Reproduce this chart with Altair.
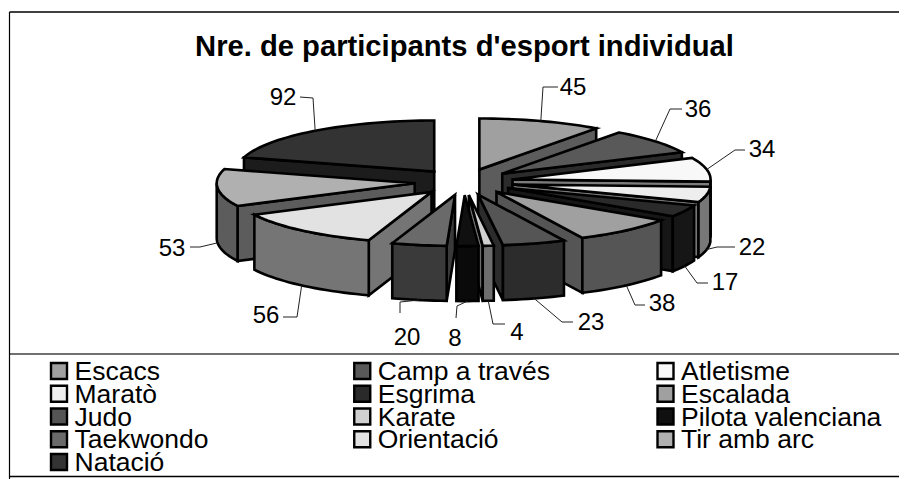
import math
import altair as alt
import pandas as pd

# ---- chart values
names = ["Escacs", "Camp a través", "Atletisme", "Maratò", "Esgrima", "Escalada", "Judo",
         "Karate", "Pilota valenciana", "Taekwondo", "Orientació", "Tir amb arc", "Natació"]
values = [45, 36, 34, 22, 17, 38, 23, 4, 8, 20, 56, 53, 92]
top_colors = ["#a0a0a0", "#595959", "#f8f8f8", "#eeeeee", "#2a2a2a", "#a0a0a0", "#555555",
              "#d0d0d0", "#101010", "#6a6a6a", "#e2e2e2", "#b0b0b0", "#333333"]
wall_colors = ["#5c5c5c", "#2b2b2b", "#7c7c7c", "#777777", "#161616", "#555555", "#2c2c2c",
               "#6e6e6e", "#0a0a0a", "#3a3a3a", "#757575", "#5c5c5c", "#1c1c1c"]

# ---- layout of the tilted pie, in page pixels
CX, CY = 464.0, 182.0       # centre of the exploded pie
EXPLODE_X, EXPLODE_Y = 49.5, 13.1
RX, RY = 198.0, 51.0
DEPTH = 55.0
label_xy = [(573, 88), (698, 110), (762, 150), (752, 248), (725, 283), (662, 304), (591, 323),
            (517, 333), (455, 339), (407, 338), (266, 316), (172, 249), (283, 98)]
leader_stub = [[(558, 87), (543, 87)], [(682, 109), (670, 109)], [(745, 150), (735, 150)],
               [(735, 247), (717, 247)], [(708, 283), (697, 283)], [(645, 305), (635, 305)],
               [(573, 322), (562, 322)], [(505, 324), (493, 324)], [(456, 318), (457, 306)],
               [(400, 313), (400, 302)], [(283, 317), (297, 317)], [(190, 247), (200, 247)],
               [(300, 97), (313, 98)]]

total = sum(values)
slices = []
cum = 0
for n, v in zip(names, values):
    a0 = cum / total * 360
    cum += v
    a1 = cum / total * 360
    mid = math.radians((a0 + a1) / 2)
    slices.append(dict(name=n, a0=a0, a1=a1, mid=mid,
                       ax=CX + EXPLODE_X * math.sin(mid),
                       ay=CY - EXPLODE_Y * math.cos(mid)))


def rim(s, deg):
    t = math.radians(deg)
    return (s["ax"] + RX * math.sin(t), s["ay"] - RY * math.cos(t))


def arc(s, d0, d1):
    n = max(2, int(abs(d1 - d0) / 2) + 2)
    return [rim(s, d0 + (d1 - d0) * k / (n - 1)) for k in range(n)]


rows = []


def face(fid, pts, color):
    closed = pts + [pts[0], pts[1]]
    for k, (x, y) in enumerate(closed):
        rows.append(dict(face=fid, k=k, x=x, y=y, fill=color))


order = sorted(range(len(slices)), key=lambda i: -math.cos(slices[i]["mid"]))
for rank, i in enumerate(order):
    s = slices[i]
    apex = (s["ax"], s["ay"])
    down = lambda p: (p[0], p[1] + DEPTH)
    fid = f"{rank:02d}"
    if math.sin(math.radians(s["a0"])) < -1e-6:
        p = rim(s, s["a0"])
        face(fid + "a", [apex, p, down(p), down(apex)], wall_colors[i])
    if math.sin(math.radians(s["a1"])) > 1e-6:
        p = rim(s, s["a1"])
        face(fid + "b", [apex, p, down(p), down(apex)], wall_colors[i])
    lo, hi = max(s["a0"], 90), min(s["a1"], 270)
    if hi > lo:
        top = arc(s, lo, hi)
        face(fid + "c", top + [down(p) for p in reversed(top)], wall_colors[i])
    face(fid + "d", [apex] + arc(s, s["a0"], s["a1"]), top_colors[i])

faces = pd.DataFrame(rows)

leader_rows = []
for i, s in enumerate(slices):
    p = rim(s, (s["a0"] + s["a1"]) / 2)
    if 90 < math.degrees(s["mid"]) < 270:
        p = (p[0], p[1] + DEPTH)
    for k, (x, y) in enumerate(leader_stub[i] + [p]):
        leader_rows.append(dict(lid=names[i], k=k, x=x, y=y))
leaders = pd.DataFrame(leader_rows)

labels = pd.DataFrame(dict(x=[p[0] for p in label_xy], y=[p[1] for p in label_xy], v=values))

# ---- legend grid, three columns filled row by row
LEG_X0, LEG_DX = 59.0, 303.25
LEG_Y0, LEG_DY = 371.0, 22.75
legend = pd.DataFrame(dict(
    name=names,
    fill=top_colors,
    x=[LEG_X0 + (i % 3) * LEG_DX for i in range(len(names))],
    tx=[LEG_X0 + 15.5 + (i % 3) * LEG_DX for i in range(len(names))],
    y=[LEG_Y0 + (i // 3) * LEG_DY for i in range(len(names))],
    by=[LEG_Y0 + 9 + (i // 3) * LEG_DY for i in range(len(names))],
))

RIGHT = 899
frame_h = pd.DataFrame(dict(x=[9.5, 9.5, 9.5], x2=[RIGHT] * 3, y=[12, 354, 476.5],
                            c=["#404040", "#404040", "#000000"], w=[2, 1.6, 1.6]))
frame_v = pd.DataFrame(dict(x=[9.5], y=[12], y2=[479]))

VIEW_TOP = 70
W, H = 891, 409
XS = alt.Scale(domain=[8, RIGHT])
YS = alt.Scale(domain=[479, VIEW_TOP])
X = alt.X("x:Q", scale=XS, axis=None)
Y = alt.Y("y:Q", scale=YS, axis=None)

poly = alt.Chart(faces).mark_line(stroke="black", strokeWidth=2.6, strokeJoin="miter", clip=False).encode(
    x=X, y=Y, order="k:Q", detail="face:N", fill=alt.Fill("fill:N", scale=None))

lead = alt.Chart(leaders).mark_line(stroke="#222222", strokeWidth=1).encode(
    x=X, y=Y, order="k:Q", detail="lid:N")

text = alt.Chart(labels).mark_text(font="Liberation Sans", fontSize=24, color="black",
                                   align="center", baseline="middle").encode(x=X, y=Y, text="v:Q")

rule_h = alt.Chart(frame_h).mark_rule().encode(
    x=X, x2="x2:Q", y=Y, color=alt.Color("c:N", scale=None), strokeWidth=alt.StrokeWidth("w:Q", scale=None))
rule_v = alt.Chart(frame_v).mark_rule(color="black", strokeWidth=1.2).encode(x=X, y=Y, y2="y2:Q")

leg_box = alt.Chart(legend).mark_square(size=256, stroke="black", strokeWidth=2.4, opacity=1).encode(
    x=X, y=Y, fill=alt.Fill("fill:N", scale=None))
leg_txt = alt.Chart(legend).mark_text(font="Liberation Sans", fontSize=26.5, color="black",
                                      align="left", baseline="alphabetic").encode(
    x=alt.X("tx:Q", scale=XS, axis=None), y=alt.Y("by:Q", scale=YS, axis=None), text="name:N")

chart = alt.layer(rule_h, rule_v, poly, lead, text, leg_box, leg_txt).properties(
    width=W, height=H,
    padding={"top": VIEW_TOP - 8, "left": 0, "right": 0, "bottom": 0},
    autosize=alt.AutoSizeParams(type="none"),
    background="white",
    title=alt.TitleParams("Nre. de participants d'esport individual", font="Liberation Sans", fontSize=29.2,
                          fontWeight="bold", color="black", anchor="middle", dx=11, offset=-51),
).configure_view(stroke=None)

chart.save("out.html", embed_options={"renderer": "svg", "actions": False})
